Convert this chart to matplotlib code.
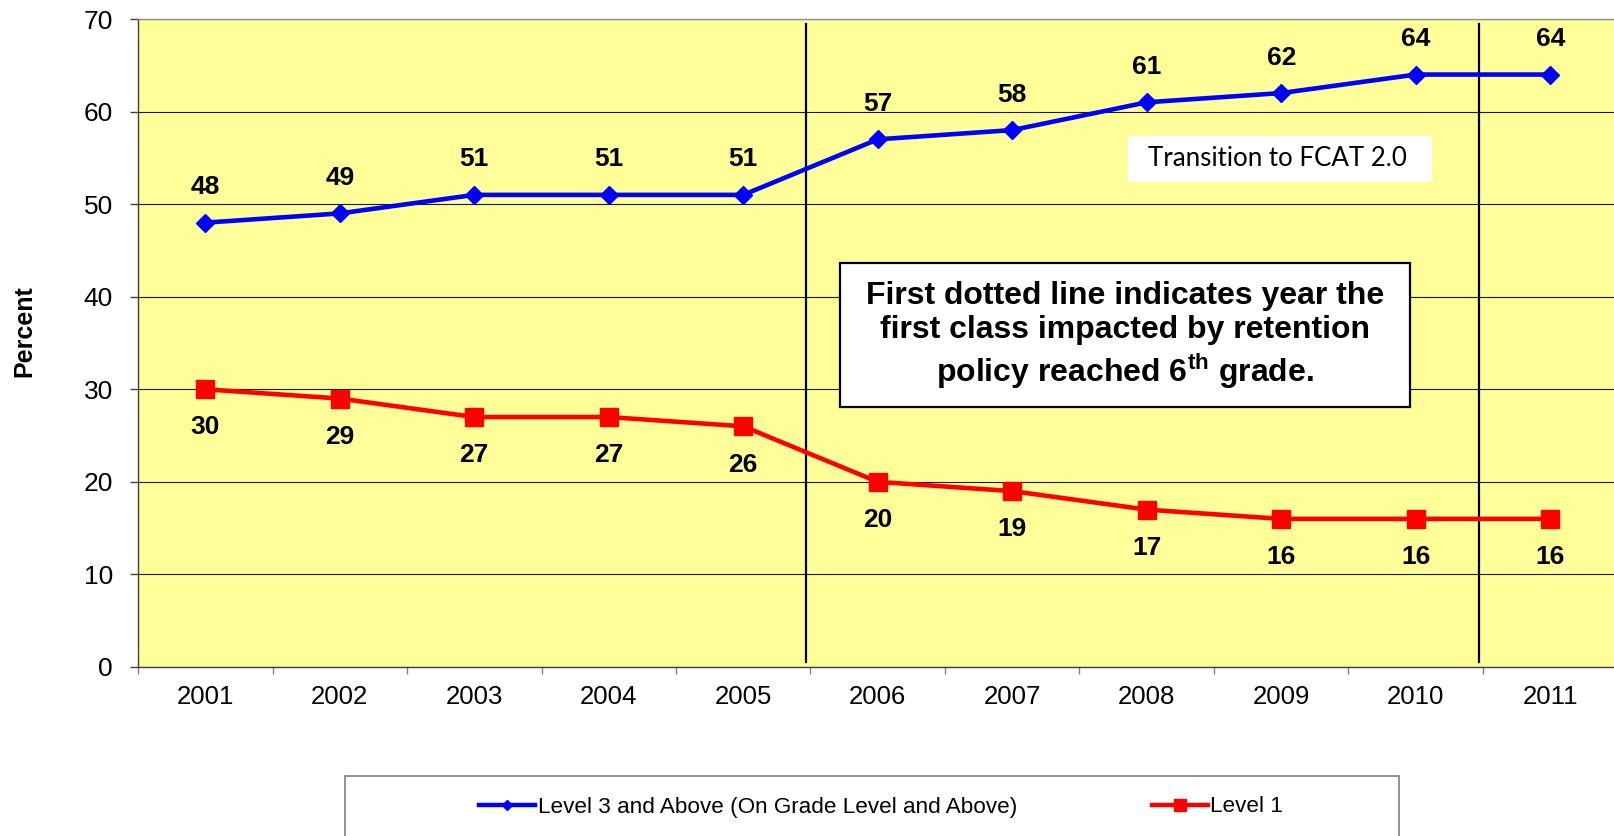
import numpy as np
import matplotlib
matplotlib.use('Agg')
import matplotlib.pyplot as plt
from matplotlib.patches import Rectangle
from matplotlib.lines import Line2D

plt.rcParams['font.family'] = ['Liberation Sans', 'DejaVu Sans']
plt.rcParams['mathtext.fontset'] = 'custom'
plt.rcParams['mathtext.rm'] = 'Liberation Sans'
plt.rcParams['mathtext.bf'] = 'Liberation Sans:bold'

# data
years = ['2001', '2002', '2003', '2004', '2005', '2006',
         '2007', '2008', '2009', '2010', '2011']
level3_above = [48, 49, 51, 51, 51, 57, 58, 61, 62, 64, 64]
level1 = [30, 29, 27, 27, 26, 20, 19, 17, 16, 16, 16]
series_names = ['Level 3 and Above (On Grade Level and Above)', 'Level 1']
# dividers sit just before 2006 and 2011
divider_x = [4.47, 9.47]

W, H = 1615, 836
fig = plt.figure(figsize=(W / 100, H / 100), dpi=100)
ax = fig.add_axes([138 / W, (H - 667) / H, 1479.5 / W, 648 / H])
ax.set_facecolor('#FFFF99')

x = np.arange(len(years))

# grid and dividers
ax.set_ylim(0, 70)
ax.set_xlim(-0.5, len(years) - 0.5)
ax.set_yticks(np.arange(0, 71, 10))
ax.yaxis.grid(True, color='#1a1a1a', lw=0.8)
ax.set_axisbelow(True)
for dx in divider_x:
    ax.plot([dx, dx], [0.55, 69.45], color='black', lw=1.6, zorder=2)

# series
ax.plot(x, level3_above, color='#0000FF', lw=3.3, marker='D', ms=9.5,
        mec='#0000FF', zorder=3)
ax.plot(x, level1, color='#FF0000', lw=3.3, marker='s', ms=13.5,
        mec='#FF0000', mew=1, zorder=3)

for xi, v in zip(x, level3_above):
    ax.annotate(str(v), (xi, v), xytext=(0, 25.5), textcoords='offset points',
                ha='center', va='center', fontsize=19, fontweight='bold')
for xi, v in zip(x, level1):
    ax.annotate(str(v), (xi, v), xytext=(0, -27.5), textcoords='offset points',
                ha='center', va='center', fontsize=19, fontweight='bold')

# axes styling
ax.set_xticks(x)
ax.set_xticklabels(years, fontsize=18.5)
ax.set_xticks(np.arange(-0.5, len(years), 1), minor=True)
ax.tick_params(axis='x', which='major', length=0, pad=13)
ax.tick_params(axis='x', which='minor', length=5, color='#808080', width=1)
ax.tick_params(axis='y', length=6, color='#404040', width=1, pad=12,
               labelsize=19)
ax.spines['top'].set_color('#909090')
ax.spines['left'].set_color('#404040')
ax.spines['bottom'].set_color('#404040')
for s in ax.spines.values():
    s.set_linewidth(1)

fig.text(24 / W, 1 - 331 / H, 'Percent', rotation=90, ha='center',
         va='center', fontsize=18, fontweight='bold')

# note box
fig.add_artist(Rectangle((840 / W, 1 - 407 / H), 570 / W, 144 / H,
                         transform=fig.transFigure, facecolor='white',
                         edgecolor='black', lw=1.6, zorder=5))
fig.text(1125 / W, 1 - 336 / H,
         'First dotted line indicates year the\n'
         'first class impacted by retention\n'
         'policy reached 6$^{\\mathbf{th}}$ grade.',
         ha='center', va='center', fontsize=23, fontweight='bold',
         linespacing=1.2, zorder=6)

# FCAT 2.0 label
fig.add_artist(Rectangle((1128 / W, 1 - 182 / H), 304 / W, 46 / H,
                         transform=fig.transFigure, facecolor='white',
                         edgecolor='none', zorder=5))
fig.text(1148 / W, 1 - 159 / H, 'Transition to FCAT 2.0', ha='left',
         va='center', fontsize=18.6, family=['Lato', 'DejaVu Sans'], zorder=6)

# legend
fig.add_artist(Rectangle((345 / W, -0.05), 1054 / W, 0.05 + (H - 776) / H,
                         transform=fig.transFigure, facecolor='white',
                         edgecolor='#808080', lw=1.2, zorder=1))
handles = [
    Line2D([], [], color='#0000FF', lw=3.2, marker='D', ms=5.5),
    Line2D([], [], color='#FF0000', lw=3.2, marker='s', ms=8),
]
fig.legend(handles, series_names, loc='center left',
           bbox_to_anchor=(479 / W, 1 - 807 / H), ncol=2, frameon=False,
           fontsize=16.2, handlelength=2.5, handletextpad=0.1,
           columnspacing=6.0, borderpad=0, borderaxespad=0)

fig.savefig('out.png', dpi=100)
